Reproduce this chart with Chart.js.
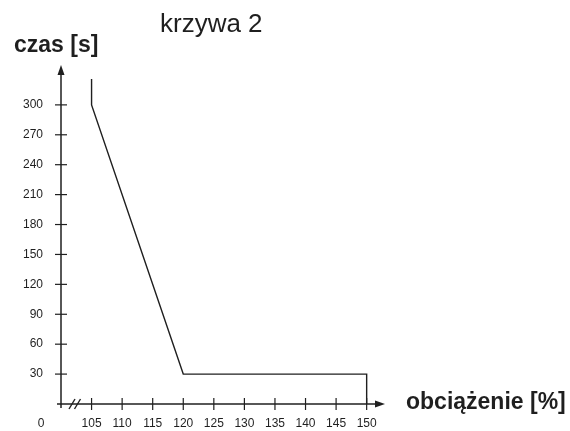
<!DOCTYPE html>
<html lang="pl">
<head>
    <meta charset="UTF-8">
    <title>krzywa 2</title>
    <script src="https://cdn.jsdelivr.net/npm/chart.js"></script>
    <style>
        html, body { margin: 0; padding: 0; background: #fff; }
        #wrap { width: 570px; height: 431px; position: relative; }
    </style>
</head>
<body>
    <div id="wrap"><canvas id="curveChart"></canvas></div>

    <script>
        // curve points: load [%] and time [s]
        const loadValues = [105, 105, 120, 150, 150];
        const timeValues = [326, 300, 30, 30, 0];
        const yTickValues = [30, 60, 90, 120, 150, 180, 210, 240, 270, 300];
        const xTickValues = [105, 110, 115, 120, 125, 130, 135, 140, 145, 150];
        const chartTitle = "krzywa 2";
        const yTitle = "czas [s]";
        const xTitle = "obciążenie [%]";
        const originLabel = "0";

        const ink = "#1f1f1f";
        const font = "'Liberation Sans', Arial, Helvetica, sans-serif";

        // axes with arrows, crossing tick marks, axis break and titles
        const drawAxes = {
            id: "drawAxes",
            afterDraw(chart) {
                let ctx = chart.ctx;
                let xs = chart.scales.x;
                let ys = chart.scales.y;
                let x0 = xs.getPixelForValue(100);
                let y0 = ys.getPixelForValue(0);
                let top = chart.chartArea.top;
                let right = chart.chartArea.right;

                ctx.save();
                ctx.strokeStyle = ink;
                ctx.fillStyle = ink;
                ctx.lineWidth = 1.5;

                // y axis
                ctx.beginPath();
                ctx.moveTo(x0, y0 + 4);
                ctx.lineTo(x0, top + 6);
                ctx.stroke();
                ctx.beginPath();
                ctx.moveTo(x0, top);
                ctx.lineTo(x0 - 3.5, top + 10);
                ctx.lineTo(x0 + 3.5, top + 10);
                ctx.closePath();
                ctx.fill();

                // x axis
                ctx.beginPath();
                ctx.moveTo(x0 - 4, y0);
                ctx.lineTo(right - 6, y0);
                ctx.stroke();
                ctx.beginPath();
                ctx.moveTo(right, y0);
                ctx.lineTo(right - 10, y0 - 3.5);
                ctx.lineTo(right - 10, y0 + 3.5);
                ctx.closePath();
                ctx.fill();

                // tick marks crossing the axes
                ctx.lineWidth = 1.2;
                yTickValues.forEach(v => {
                    let py = ys.getPixelForValue(v);
                    ctx.beginPath();
                    ctx.moveTo(x0 - 6, py);
                    ctx.lineTo(x0 + 6, py);
                    ctx.stroke();
                });
                xTickValues.forEach(v => {
                    let px = xs.getPixelForValue(v);
                    ctx.beginPath();
                    ctx.moveTo(px, y0 - 6);
                    ctx.lineTo(px, y0 + 6);
                    ctx.stroke();
                });

                // axis break
                ctx.lineWidth = 1.4;
                [72, 77.5].forEach(bx => {
                    ctx.beginPath();
                    ctx.moveTo(bx - 3, y0 + 5);
                    ctx.lineTo(bx + 3, y0 - 5);
                    ctx.stroke();
                });

                // texts
                ctx.textBaseline = "middle";
                ctx.textAlign = "center";
                ctx.font = "12px " + font;
                ctx.fillText(originLabel, 41, y0 + 20);

                ctx.font = "26px " + font;
                ctx.textAlign = "left";
                ctx.fillText(chartTitle, 160, 25);

                ctx.font = "bold 23px " + font;
                ctx.fillText(yTitle, 14, 46);
                ctx.fillText(xTitle, 406, y0 - 1);
                ctx.restore();
            }
        };

        let ctx = document.getElementById("curveChart").getContext("2d");

        new Chart(ctx, {
            type: "line",
            data: {
                labels: loadValues,
                datasets: [{
                    data: loadValues.map((x, i) => ({ x: x, y: timeValues[i] })),
                    borderColor: ink,
                    borderWidth: 1.4,
                    pointRadius: 0,
                    fill: false,
                    tension: 0
                }]
            },
            options: {
                responsive: true,
                maintainAspectRatio: false,
                animation: false,
                layout: { padding: { top: 65, right: 185, left: 0, bottom: 0 } },
                plugins: {
                    legend: { display: false },
                    tooltip: { enabled: false }
                },
                scales: {
                    x: {
                        type: "linear",
                        min: 100,
                        max: 153,
                        afterFit: s => { s.height = 27; },
                        afterBuildTicks: s => { s.ticks = xTickValues.map(v => ({ value: v })); },
                        grid: { display: false, drawTicks: false },
                        border: { display: false },
                        ticks: {
                            color: ink,
                            padding: 12,
                            maxRotation: 0,
                            autoSkip: false,
                            font: { family: font, size: 12 }
                        }
                    },
                    y: {
                        type: "linear",
                        min: 0,
                        max: 340,
                        afterFit: s => { s.width = 61; },
                        afterBuildTicks: s => { s.ticks = yTickValues.map(v => ({ value: v })); },
                        grid: { display: false, drawTicks: false },
                        border: { display: false },
                        ticks: {
                            color: ink,
                            padding: 18,
                            font: { family: font, size: 12 }
                        }
                    }
                }
            },
            plugins: [drawAxes]
        });
    </script>
</body>
</html>
